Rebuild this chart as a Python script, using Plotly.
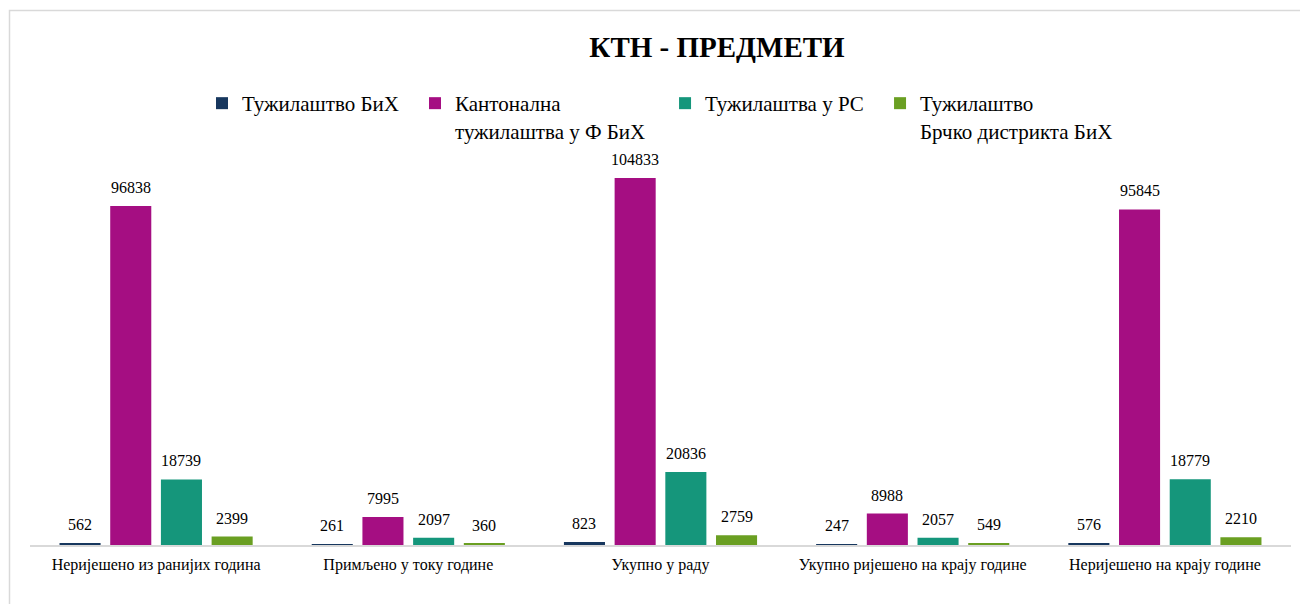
import plotly.graph_objects as go

categories = ["Неријешено из ранијих година", "Примљено у току године", "Укупно у раду",
              "Укупно ријешено на крају године", "Неријешено на крају године"]
series_names = ["Тужилаштво БиХ", "Кантонална<br>тужилаштва у Ф БиХ",
                "Тужилаштва у РС", "Тужилаштво<br>Брчко дистрикта БиХ"]
tuzilastvo_bih = [562, 261, 823, 247, 576]
kantonalna_fbih = [96838, 7995, 104833, 8988, 95845]
tuzilastva_rs = [18739, 2097, 20836, 2057, 18779]
brcko = [2399, 360, 2759, 549, 2210]
colors = ["#17375E", "#A50E82", "#15967B", "#6A9F22"]

values = [tuzilastvo_bih, kantonalna_fbih, tuzilastva_rs, brcko]

serif = "Liberation Serif, Times New Roman, serif"

W, H = 1308, 604
ML, MR, MT, MB = 22, 25, 132, 67
BARGAP, BARGROUPGAP = 0.196, 0.19
plot_w = W - ML - MR
plot_h = H - MT - MB
cat_w = plot_w / len(categories)
slot_w = cat_w * (1 - BARGAP) / len(values)

legend_x = [0.1364, 0.3053, 0.5036, 0.6741]
legend_ids = ["legend", "legend2", "legend3", "legend4"]

fig = go.Figure()
annotations = []
for i, (name, vals, col) in enumerate(zip(series_names, values, colors)):
    fig.add_trace(go.Bar(
        x=categories, y=vals, name=name, marker=dict(color=col, line=dict(width=0)),
        legend=legend_ids[i],
    ))
    shift = (i - (len(values) - 1) / 2) * slot_w
    for c, v in zip(categories, vals):
        annotations.append(dict(x=c, y=v, xref="x", yref="y", text=str(v), showarrow=False,
                                xanchor="center", yanchor="bottom", xshift=shift, yshift=8,
                                font=dict(family=serif, size=16, color="#000000")))

legend_style = dict(orientation="h", xanchor="left", y=1.1407, yanchor="top",
                    valign="top", font=dict(family=serif, size=21, color="#000000"),
                    bgcolor="rgba(0,0,0,0)")

fig.update_layout(
    width=W, height=H,
    paper_bgcolor="white", plot_bgcolor="white",
    margin=dict(l=ML, r=MR, t=MT, b=MB),
    barmode="group", bargap=BARGAP, bargroupgap=BARGROUPGAP,
    title=dict(text="<b>КТН - ПРЕДМЕТИ</b>", x=709 / W, xref="container", xanchor="center",
               y=1 - 39 / H, yref="container", yanchor="middle",
               font=dict(family=serif, size=29, color="#000000")),
    showlegend=True,
    xaxis=dict(showline=True, linecolor="#D9D9D9", linewidth=2, ticks="outside", ticklen=4,
               tickcolor="rgba(0,0,0,0)",
               tickfont=dict(family=serif, size=16, color="#000000"), showgrid=False),
    yaxis=dict(visible=False, range=[0, 115690], showgrid=False, zeroline=False),
    annotations=annotations,
    shapes=[dict(type="rect", xref="paper", yref="paper",
                 x0=(1.5 - ML) / plot_w, x1=1.05, y0=-0.3, y1=(H - MB - 2.5) / plot_h,
                 line=dict(color="#D9D9D9", width=1.5), fillcolor="rgba(0,0,0,0)",
                 layer="below")],
)
for lid, lx in zip(legend_ids, legend_x):
    fig.update_layout({lid: dict(x=lx, **legend_style)})

fig.write_html("out.html")
